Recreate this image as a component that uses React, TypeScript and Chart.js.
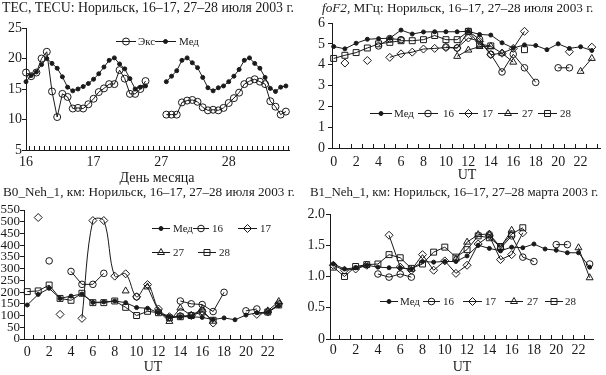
import React, { useEffect, useRef } from 'react';
import { Chart, registerables } from 'chart.js';
Chart.register(...registerables);

const FONT = "'Liberation Serif', 'Times New Roman', serif";
const INK = '#1a1a1a';

// ---------- Panel 1: TEC ----------
const TEC_DAY_LABELS = ['16', '17', '27', '28'];
const TEC_DAY_SLOTS = [0, 13, 26, 39];
const TEC_EXC = [17.7, 17.1, 17.7, 20.0, 21.1, 14.6, 10.4, 14.2, 13.7, 11.8, 11.9, 11.8, 12.5, 13.4, 14.5, 15.1, 15.8, 15.8, 18.1, 16.7, 14.2, 14.2, 15.0, 16.3,
  null, null, null,
  10.8, 10.8, 10.8, 12.8, 13.1, 13.2, 12.9, 12.0, 11.5, 11.6, 11.5, 11.9, 12.7, 13.5, 14.4, 15.8, 16.3, 16.6, 16.2, 15.8, 13.0, 12.1, 10.8, 11.3];
const TEC_MED = [16.2, 17.2, 17.8, 19.0, 20.0, 19.2, 18.4, 17.0, 15.3, 14.7, 15.0, 15.4, 15.9, 16.6, 17.5, 18.6, 19.7, 20.1, 19.1, 18.3, 16.7, 15.0, 15.3, 15.5,
  null, null, null,
  16.2, 17.1, 18.0, 19.7, 20.1, 19.3, 18.5, 16.9, 15.2, 14.7, 15.2, 15.5, 16.2, 17.1, 18.2, 19.7, 20.1, 19.2, 18.4, 16.9, 15.1, 14.6, 15.3, 15.5];

// ---------- hours ----------
const HOURS = [0, 1, 2, 3, 4, 5, 6, 7, 8, 9, 10, 11, 12, 13, 14, 15, 16, 17, 18, 19, 20, 21, 22, 23];
const HOUR_LABELS = [0, 2, 4, 6, 8, 10, 12, 14, 16, 18, 20, 22];

// ---------- Panel 2: foF2 ----------
const FOF2_MED = [4.87, 4.76, 5.03, 5.22, 5.25, 5.27, 5.66, 5.47, 5.57, 5.58, 5.58, 5.58, 5.6, 5.45, 5.42, 5.05, 4.8, 4.95, 4.92, 4.72, 5.0, 4.78, 4.86, 4.68];
const FOF2_16 = [null, null, null, null, 4.9, 5.25, 5.2, null, null, null, 4.85, 4.8, 5.6, 5.22, 4.5, 3.65, 4.5, 3.85, 3.15, null, 3.85, 3.85, null, null];
const FOF2_17 = [null, 4.08, null, 4.2, null, 4.35, 4.52, 4.6, 4.75, 4.78, 4.82, 4.8, 5.28, 5.12, 4.48, 4.55, 4.78, 5.6, null, null, null, 4.62, null, 4.84];
const FOF2_27 = [null, null, null, null, null, null, null, null, null, null, null, 4.4, 4.7, 4.87, 4.88, 4.55, 4.12, null, null, null, null, null, 3.68, 4.3];
const FOF2_28 = [4.3, 4.45, 4.58, 4.8, 5.0, 5.07, 5.15, 5.15, 5.2, 5.4, 5.2, 5.2, 5.6, 4.98, 4.9, null, null, 4.72, null, null, null, null, null, null];

// ---------- Panel 3: B0 ----------
const B0_MED = [145, 190, 216, 173, 183, 192, 156, 158, 162, 155, 134, 131, 112, 95, 95, 95, 92, 83, 90, 82, 102, 112, 114, 142];
const B0_16 = [null, null, 333, null, 288, 233, 233, 280, null, null, 180, null, null, null, 162, 150, 147, 117, 199, null, 120, 128, null, null];
const B0_17 = [null, 518, null, 105, null, 88, 505, 505, 268, 278, 180, 232, 128, 95, 98, 100, 118, 68, null, null, null, 105, 115, 150];
const B0_27 = [null, null, null, null, null, null, null, null, null, 205, null, 222, 118, 75, 132, 100, 128, null, null, null, null, null, 120, 160];
const B0_28 = [202, 205, 230, 173, 165, 195, 155, 155, 162, 135, 100, 118, 112, 90, 95, 100, 115, 80, null, null, null, null, 115, 145];

// ---------- Panel 4: B1 ----------
const B1_MED = [1.2, 1.12, 1.14, 1.18, 1.15, 1.14, 1.14, 1.12, 1.24, 1.23, 1.24, 1.24, 1.33, 1.5, 1.45, 1.41, 1.47, 1.46, 1.52, 1.44, 1.42, 1.38, 1.38, 1.15];
const B1_16 = [null, null, null, null, 1.04, 0.99, 1.04, 0.99, null, null, null, null, null, null, 1.67, 1.45, 1.65, 1.31, 1.24, null, 1.51, 1.51, null, 1.2];
const B1_17 = [1.18, 1.1, 1.12, 1.18, null, 1.66, 1.15, 1.1, 1.35, 1.1, 1.25, 1.05, 1.18, 1.52, 1.65, 1.27, 1.35, 1.7, null, null, null, null, null, null];
const B1_27 = [null, null, null, null, null, null, null, null, null, null, null, 1.28, 1.55, 1.67, 1.68, 1.47, 1.74, null, null, null, null, null, 1.46, 0.98];
const B1_28 = [1.15, 1.0, 1.16, 1.19, 1.2, 1.35, 1.3, 1.13, 1.2, 1.39, 1.47, 1.31, 1.43, 1.65, 1.62, 1.48, 1.68, 1.78, null, null, null, null, null, null];

type St = { pointStyle: string; radius: number; fill?: boolean };
const ST: Record<string, St> = {
  med: { pointStyle: 'circle', radius: 2, fill: true },
  exc: { pointStyle: 'circle', radius: 3.5 },
  s16: { pointStyle: 'circle', radius: 3.3 },
  s17: { pointStyle: 'rectRot', radius: 4 },
  s27: { pointStyle: 'triangle', radius: 4 },
  s28: { pointStyle: 'rect', radius: 4.2 },
};

function ds(label: string, values: (number | null)[], xs: number[] | null, st: St, extra: any = {}) {
  return {
    label,
    data: values.map((v, i) => ({ x: xs ? xs[i] : i, y: v })),
    borderColor: INK,
    borderWidth: 1,
    pointStyle: st.pointStyle,
    pointRadius: st.radius,
    pointBorderColor: INK,
    pointBorderWidth: 1,
    pointBackgroundColor: st.fill ? INK : 'rgba(0,0,0,0)',
    tension: 0,
    clip: false,
    spanGaps: false,
    ...extra,
  };
}

function drawMarker(ctx: CanvasRenderingContext2D, style: string, r: number, x: number, y: number, fill: string) {
  ctx.beginPath();
  if (style === 'circle') ctx.arc(x, y, r, 0, Math.PI * 2);
  else if (style === 'rect') { const s = r * Math.SQRT1_2; ctx.rect(x - s, y - s, 2 * s, 2 * s); }
  else if (style === 'rectRot') { ctx.moveTo(x, y - r); ctx.lineTo(x + r, y); ctx.lineTo(x, y + r); ctx.lineTo(x - r, y); ctx.closePath(); }
  else if (style === 'triangle') {
    const e = (3 * r) / Math.sqrt(3); const h = (e * Math.sqrt(3)) / 2;
    ctx.moveTo(x - e / 2, y + h / 3); ctx.lineTo(x + e / 2, y + h / 3); ctx.lineTo(x, y - (2 * h) / 3); ctx.closePath();
  }
  ctx.fillStyle = fill; ctx.fill(); ctx.stroke();
}

const legendPlugin = {
  id: 'manualLegend',
  afterDraw(chart: any, _a: any, opts: any) {
    const ctx = chart.ctx as CanvasRenderingContext2D;
    ctx.save();
    ctx.font = `${opts.size || 11}px ${FONT}`;
    ctx.textBaseline = 'middle';
    ctx.strokeStyle = INK; ctx.lineWidth = 1;
    (opts.items || []).forEach((it: any) => {
      const d = chart.data.datasets[it.ds];
      ctx.beginPath(); ctx.moveTo(it.x, it.y + 0.5); ctx.lineTo(it.x + it.len, it.y + 0.5); ctx.stroke();
      drawMarker(ctx, d.pointStyle, d.pointRadius, it.x + it.len / 2, it.y + 0.5, d.pointBackgroundColor);
      ctx.fillStyle = INK;
      ctx.fillText(d.label, it.tx, it.y + 1);
    });
    ctx.restore();
  },
};

const inTickPlugin = {
  id: 'inTicks',
  afterDraw(chart: any, _a: any, opts: any) {
    const ctx = chart.ctx as CanvasRenderingContext2D;
    const xs = chart.scales.x; const area = chart.chartArea;
    ctx.save(); ctx.strokeStyle = INK; ctx.lineWidth = 1;
    (opts.values || []).forEach((v: number) => {
      const px = Math.round(xs.getPixelForValue(v)) + 0.5;
      ctx.beginPath(); ctx.moveTo(px, area.bottom); ctx.lineTo(px, area.bottom - (opts.len || 4)); ctx.stroke();
    });
    ctx.restore();
  },
};

function makeConfig(o: any) {
  const font = { family: FONT, size: o.tickFont || 14 };
  return {
    type: 'line',
    data: { datasets: o.datasets },
    plugins: [legendPlugin, inTickPlugin],
    options: {
      animation: false,
      responsive: false,
      devicePixelRatio: 1,
      events: [],
      layout: { padding: o.pad },
      plugins: {
        legend: { display: false },
        tooltip: { enabled: false },
        manualLegend: { items: o.legend, size: o.legendSize || 11 },
        inTicks: { values: o.minorTicks, len: 4 },
      },
      scales: {
        x: {
          type: 'linear', min: o.xMin, max: o.xMax,
          afterBuildTicks: (s: any) => { s.ticks = o.xTickValues.map((v: number) => ({ value: v })); },
          ticks: {
            callback: (_v: any, i: number) => o.xTickLabels[i],
            autoSkip: false, maxRotation: 0, minRotation: 0,
            padding: o.xPad, color: INK, font: { family: FONT, size: o.xFont || 14 },
          },
          grid: { display: false, drawTicks: false },
          border: { display: true, color: INK, width: 1 },
          afterFit: (s: any) => { s.height = o.xHeight; },
        },
        y: {
          min: o.yMin, max: o.yMax,
          ticks: { stepSize: o.yStep, callback: o.yFmt, padding: o.yPad, color: INK, font, autoSkip: false },
          grid: { display: true, drawOnChartArea: false, drawTicks: true, tickLength: 4, color: INK },
          border: { display: true, color: INK, width: 1 },
          afterFit: (s: any) => { s.width = o.yWidth; },
        },
      },
    },
  };
}

function ChartBox({ left, top, width, height, config }: any) {
  const ref = useRef<HTMLCanvasElement>(null);
  useEffect(() => {
    const c = new Chart(ref.current as HTMLCanvasElement, config);
    return () => c.destroy();
  }, []);
  return (
    <div style={{ position: 'absolute', left, top, width, height }}>
      <canvas ref={ref} width={width} height={height} style={{ width, height, display: 'block' }} />
    </div>
  );
}

const halfTicks = (a: number, b: number) => { const r: number[] = []; for (let v = a; v <= b; v += 1) r.push(v); return r; };

const cfg1 = makeConfig({
  datasets: [
    ds('Экс', TEC_EXC, null, ST.exc),
    ds('Мед', TEC_MED, null, ST.med),
  ],
  xMin: 0, xMax: 50.6, xTickValues: TEC_DAY_SLOTS, xTickLabels: TEC_DAY_LABELS,
  minorTicks: halfTicks(0.5, 50.5),
  yMin: 5, yMax: 25, yStep: 5, yFmt: (v: number) => String(v),
  pad: { left: 0, right: 14, top: 28, bottom: 0 }, yWidth: 26, xHeight: 37, xPad: 4, yPad: 0,
  legend: [
    { ds: 0, x: 116, len: 20, tx: 138, y: 41 },
    { ds: 1, x: 155, len: 21, tx: 179, y: 41 },
  ],
});

const cfg2 = makeConfig({
  datasets: [
    ds('Мед', FOF2_MED, HOURS, ST.med),
    ds('16', FOF2_16, HOURS, ST.s16),
    ds('17', FOF2_17, HOURS, ST.s17),
    ds('27', FOF2_27, HOURS, ST.s27),
    ds('28', FOF2_28, HOURS, ST.s28),
  ],
  xMin: -0.15, xMax: 23.8, xTickValues: HOUR_LABELS, xTickLabels: HOUR_LABELS.map(String),
  minorTicks: halfTicks(0.5, 23.5),
  yMin: 0, yMax: 6, yStep: 1, yFmt: (v: number) => String(v),
  pad: { left: 0, right: 4, top: 23, bottom: 0 }, yWidth: 29, xHeight: 39, xPad: 6, yPad: 3,
  legend: [
    { ds: 0, x: 67, len: 22, tx: 91, y: 113 },
    { ds: 1, x: 115, len: 20, tx: 140, y: 113 },
    { ds: 2, x: 156, len: 19, tx: 179, y: 113 },
    { ds: 3, x: 195, len: 20, tx: 219, y: 113 },
    { ds: 4, x: 235, len: 19, tx: 257, y: 113 },
  ],
});

const cfg3 = makeConfig({
  datasets: [
    ds('Мед', B0_MED, HOURS, ST.med),
    ds('16', B0_16, HOURS, ST.s16),
    ds('17', B0_17, HOURS, ST.s17, { tension: 0.35 }),
    ds('27', B0_27, HOURS, ST.s27),
    ds('28', B0_28, HOURS, ST.s28),
  ],
  xMin: -0.3, xMax: 23.3, xTickValues: HOUR_LABELS, xTickLabels: HOUR_LABELS.map(String),
  minorTicks: halfTicks(0.5, 22.5),
  yMin: 0, yMax: 550, yStep: 50, yFmt: (v: number) => String(v), tickFont: 13,
  pad: { left: 0, right: 21, top: 23, bottom: 0 }, yWidth: 24, xHeight: 36, xPad: 5, yPad: 0,
  legend: [
    { ds: 0, x: 152, len: 18, tx: 173, y: 41 },
    { ds: 1, x: 193, len: 16, tx: 212, y: 41 },
    { ds: 2, x: 238, len: 19, tx: 260, y: 41 },
    { ds: 3, x: 152, len: 18, tx: 173, y: 65 },
    { ds: 4, x: 198, len: 18, tx: 219, y: 65 },
  ],
});

const cfg4 = makeConfig({
  datasets: [
    ds('Мед', B1_MED, HOURS, ST.med),
    ds('16', B1_16, HOURS, ST.s16),
    ds('17', B1_17, HOURS, ST.s17),
    ds('27', B1_27, HOURS, ST.s27),
    ds('28', B1_28, HOURS, ST.s28),
  ],
  xMin: -0.3, xMax: 23.3, xTickValues: HOUR_LABELS, xTickLabels: HOUR_LABELS.map(String),
  minorTicks: halfTicks(0.5, 22.5),
  yMin: 0, yMax: 2, yStep: 0.5, yFmt: (v: number) => (v === 0 ? '0' : v.toFixed(1)),
  pad: { left: 0, right: 13, top: 27, bottom: 0 }, yWidth: 27, xHeight: 36, xPad: 3, yPad: 1,
  legend: [
    { ds: 0, x: 77, len: 18, tx: 97, y: 114 },
    { ds: 1, x: 120, len: 17, tx: 140, y: 114 },
    { ds: 2, x: 160, len: 19, tx: 182, y: 114 },
    { ds: 3, x: 202, len: 18, tx: 224, y: 114 },
    { ds: 4, x: 242, len: 18, tx: 262, y: 114 },
  ],
});

const txt: React.CSSProperties = {
  position: 'absolute', fontFamily: FONT, color: INK, whiteSpace: 'nowrap', fontSize: 14, lineHeight: '16px',
};

export default function App() {
  return (
    <div style={{ position: 'fixed', left: 0, top: 0, width: 606, height: 375, background: '#fff', overflow: 'hidden' }}>
      <ChartBox left={0} top={0} width={303} height={187} config={cfg1} />
      <ChartBox left={303} top={0} width={303} height={187} config={cfg2} />
      <ChartBox left={0} top={187} width={303} height={188} config={cfg3} />
      <ChartBox left={303} top={187} width={303} height={188} config={cfg4} />
      <div style={{ ...txt, left: 2, top: 0, fontSize: 13.8 }}>TEC, TECU: Норильск, 16–17, 27–28 июля 2003 г.</div>
      <div style={{ ...txt, left: 322, top: 0, fontSize: 13.2 }}><i>foF2</i>, МГц: Норильск, 16–17, 27–28 июля 2003 г.</div>
      <div style={{ ...txt, left: 3, top: 184, fontSize: 13.2 }}>B0_Neh_1, км: Норильск, 16–17, 27–28 июля 2003 г.</div>
      <div style={{ ...txt, left: 310, top: 184, fontSize: 12.9 }}>B1_Neh_1, км: Норильск, 16–17, 27–28 марта 2003 г.</div>
      <div style={{ ...txt, left: 157, top: 170, transform: 'translateX(-50%)' }}>День месяца</div>
      <div style={{ ...txt, left: 467, top: 167, transform: 'translateX(-50%)' }}>UT</div>
      <div style={{ ...txt, left: 153, top: 359, transform: 'translateX(-50%)' }}>UT</div>
      <div style={{ ...txt, left: 462, top: 359, transform: 'translateX(-50%)' }}>UT</div>
    </div>
  );
}
